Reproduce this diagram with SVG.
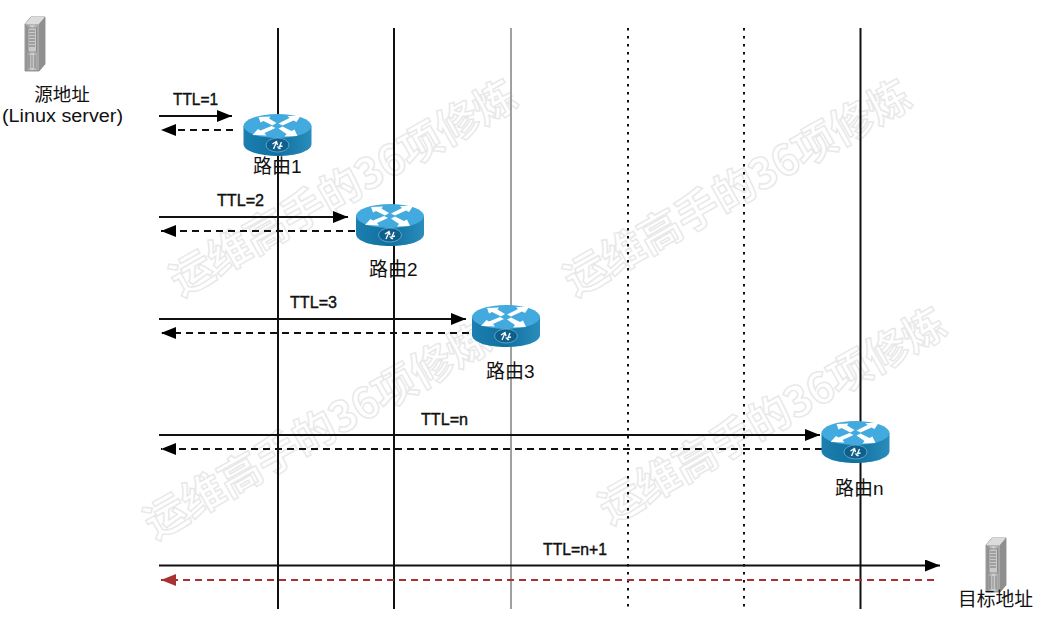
<svg xmlns="http://www.w3.org/2000/svg" width="1046" height="620" viewBox="0 0 1046 620">
<style>
text{font-family:"Liberation Sans","Noto Sans CJK SC",sans-serif;fill:#111}
.wm{font-family:"Noto Sans CJK SC",sans-serif;font-size:42.500px;font-weight:700;fill:#fff;stroke:#e8e8e8;stroke-width:1.4}
.ttl{font-size:16px;stroke:#111;stroke-width:.4}
.lbl{font-size:19px}
.life{stroke:#111;stroke-width:2;fill:none}
.dot{stroke-dasharray:2.500 5.500}
.req{stroke:#111;stroke-width:1.800;fill:none;marker-end:url(#a)}
.rep{stroke:#111;stroke-width:1.800;fill:none;stroke-dasharray:7 5;marker-end:url(#a)}
</style>
<defs>
<marker id="a" markerUnits="userSpaceOnUse" markerWidth="16" markerHeight="12" refX="15" refY="6" orient="auto"><path d="M0 0L15 6L0 12z" fill="#000"/></marker>
<marker id="r" markerUnits="userSpaceOnUse" markerWidth="16" markerHeight="12" refX="15" refY="6" orient="auto"><path d="M0 0L15 6L0 12z" fill="#a83232"/></marker>
<linearGradient id="side" x1="0" x2="1" y1="0" y2="0"><stop offset="0" stop-color="#1c7fb0"/><stop offset=".5" stop-color="#10709f"/><stop offset="1" stop-color="#2a8dbc"/></linearGradient>
<linearGradient id="front" x1="0" x2="1" y1="0" y2="0"><stop offset="0" stop-color="#8d8d8d"/><stop offset=".5" stop-color="#d2d2d2"/><stop offset="1" stop-color="#9a9a9a"/></linearGradient>
<symbol id="router" viewBox="0 0 68 43" width="68" height="43" overflow="visible">
<path d="M0 12V30C0 37 15 42 34 42S68 37 68 30V12z" fill="url(#side)"/>
<ellipse cx="34" cy="12" rx="34" ry="12" fill="#42aade"/>
<g fill="#fff">
<path d="M15 3L27 2.500L25.500 4.500L33 9L29 11.500L20 7L17 8.500z"/>
<path d="M57 2L44 2L46 4L35 9.500L39 11.500L50 6.500L53 8z"/>
<path d="M9 21L23 21.500L21 19L32 14L28 12L17 16.500L14.500 15z"/>
<path d="M54 22L41 22.500L43 20L35 14.500L39 12.500L48 17L51 15.500z"/>
</g>
<ellipse cx="34" cy="31" rx="11.500" ry="7" fill="#0f5f8c" stroke="#7fb9d8" stroke-width=".7"/>
<path d="M30 35L33 28M29 30L33 27.500L34 31M35 35L38 28M37 35L34.500 33L39 32" stroke="#fff" stroke-width="1.300" fill="none"/>
</symbol>
<symbol id="server" viewBox="0 0 20 54" width="20" height="54" overflow="visible">
<path d="M0 7L6 0H20V47L14 54H0z" fill="#b5b5b5" stroke="#555" stroke-width=".6"/>
<path d="M0 7L6 0H20L14 7z" fill="#dcdcdc"/>
<path d="M14 7L20 0V47L14 54z" fill="#8f8f8f"/>
<rect x="1" y="8" width="12.500" height="45" fill="url(#front)"/>
<rect x="3" y="11" width="8.500" height="24" fill="#c9c9c9" stroke="#6b6b6b" stroke-width=".6"/>
<path d="M4 14H10M4 17H10M4 20H10M4 23H10M4 26H10M4 29H10" stroke="#6e6e6e" stroke-width=".9"/>
<path d="M4 38V51M7 38V51M10 38V51" stroke="#777" stroke-width=".8"/>
</symbol>
</defs>
<rect width="1046" height="620" fill="#fff"/>
<g id="watermarks">
<text class="wm" transform="translate(181 297) rotate(-29.500)">运维高手的36项修炼</text>
<text class="wm" transform="translate(575 297) rotate(-29.500)">运维高手的36项修炼</text>
<text class="wm" transform="translate(155 540) rotate(-29.500)">运维高手的36项修炼</text>
<text class="wm" transform="translate(610 525) rotate(-29.500)">运维高手的36项修炼</text>
</g>
<g id="lifelines">
<path class="life" d="M278 28V609M394 28V609M860.500 28V609"/>
<path class="life" d="M511 28V609" style="stroke:#a0a0a0"/>
<path class="life dot" d="M628 28V609M744 28V609"/>
</g>
<g id="connectors">
<path class="req" d="M159 116H232"/>
<path class="rep" d="M233 130H161"/>
<path class="req" d="M159 217H348"/>
<path class="rep" d="M355 231H161"/>
<path class="req" d="M159 319H466"/>
<path class="rep" d="M469 333H161"/>
<path class="req" d="M159 435H820"/>
<path class="rep" d="M822 449H161"/>
<path class="req" d="M159 565.500H940"/>
<path class="rep" d="M934 580H161" style="stroke:#a83232;marker-end:url(#r)"/>
</g>
<g id="ttl-labels">
<text class="ttl" x="173" y="105" textLength="45" lengthAdjust="spacingAndGlyphs">TTL=1</text>
<text class="ttl" x="217" y="206" textLength="47" lengthAdjust="spacingAndGlyphs">TTL=2</text>
<text class="ttl" x="290" y="308" textLength="47" lengthAdjust="spacingAndGlyphs">TTL=3</text>
<text class="ttl" x="421" y="425" textLength="47" lengthAdjust="spacingAndGlyphs">TTL=n</text>
<text class="ttl" x="543" y="555" textLength="64" lengthAdjust="spacingAndGlyphs">TTL=n+1</text>
</g>
<g id="source">
<use href="#server" x="25" y="17"/>
<text x="62" y="101" font-size="18.500" text-anchor="middle">源地址</text>
<text x="2" y="122" font-size="18" textLength="121" lengthAdjust="spacingAndGlyphs">(Linux server)</text>
</g>
<g id="router1"><use href="#router" x="243.500" y="114"/><text class="lbl" x="253" y="173">路由1</text></g>
<g id="router2"><use href="#router" x="356" y="204"/><text class="lbl" x="369" y="276">路由2</text></g>
<g id="router3"><use href="#router" x="472" y="305"/><text class="lbl" x="486" y="378">路由3</text></g>
<g id="routern"><use href="#router" x="821.500" y="421"/><text class="lbl" x="835" y="495">路由n</text></g>
<g id="target">
<use href="#server" x="986" y="538"/>
<text x="958" y="606" font-size="18.800">目标地址</text>
</g>
</svg>
